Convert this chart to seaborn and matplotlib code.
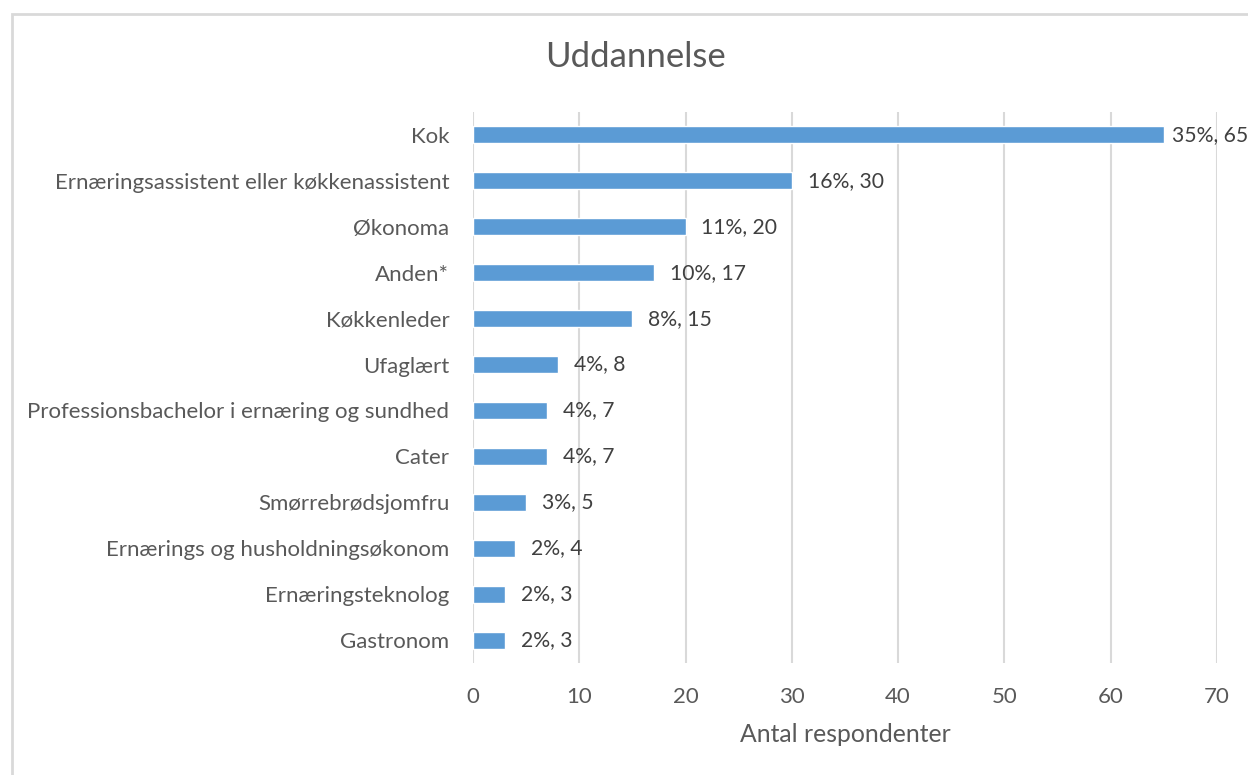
import pandas as pd
import matplotlib.pyplot as plt
import seaborn as sns
from matplotlib.patches import Rectangle

# --- Data ---
kategorier = [
    "Kok",
    "Ernæringsassistent eller køkkenassistent",
    "Økonoma",
    "Anden*",
    "Køkkenleder",
    "Ufaglært",
    "Professionsbachelor i ernæring og sundhed",
    "Cater",
    "Smørrebrødsjomfru",
    "Ernærings og husholdningsøkonom",
    "Ernæringsteknolog",
    "Gastronom",
]
antal = [65, 30, 20, 17, 15, 8, 7, 7, 5, 4, 3, 3]
procent = [35, 16, 11, 10, 8, 4, 4, 4, 3, 2, 2, 2]

df = pd.DataFrame({"uddannelse": kategorier, "antal": antal, "procent": procent})

# --- Style ---
sns.set_style("white")
plt.rcParams["font.family"] = ["Lato", "DejaVu Sans"]
tekst = "#595959"

fig = plt.figure(figsize=(12.48, 7.75), dpi=100)
ax = fig.add_axes([0.379, 0.1445, 0.596, 0.711])

sns.barplot(data=df, y="uddannelse", x="antal", orient="h", color="#5B9BD5",
            saturation=1, width=0.37, ax=ax)

ax.set_xlim(0, 70)
ax.set_xticks(range(0, 71, 10))
ax.set_ylim(len(kategorier) - 0.5, -0.5)
ax.grid(axis="x", color="#d9d9d9", linewidth=1.5)
ax.set_axisbelow(True)
for s in ax.spines.values():
    s.set_visible(False)
ax.tick_params(axis="both", length=0, labelsize=16, labelcolor=tekst)
ax.tick_params(axis="x", pad=17)
ax.tick_params(axis="y", pad=17)
ax.set_ylabel("")
ax.set_xlabel("Antal respondenter", fontsize=17.8, color=tekst, labelpad=12)

# data labels (the longest one sits closer to its bar, as in the original)
for i, (a, p) in enumerate(zip(antal, procent)):
    off = 0.8 if i == 0 else 1.5
    ax.text(a + off, i, f"{p}%, {a}", va="center", ha="left",
            fontsize=15.2, color="#404040", clip_on=False)

fig.text(0.509, 0.926, "Uddannelse", ha="center", va="center",
         fontsize=25, color=tekst)

# chart area border
fig.patches.append(Rectangle((0.0095, -0.01), 1.2, 0.992, transform=fig.transFigure,
                             fill=False, edgecolor="#d9d9d9", linewidth=2))

fig.savefig("out.png", dpi=100)
